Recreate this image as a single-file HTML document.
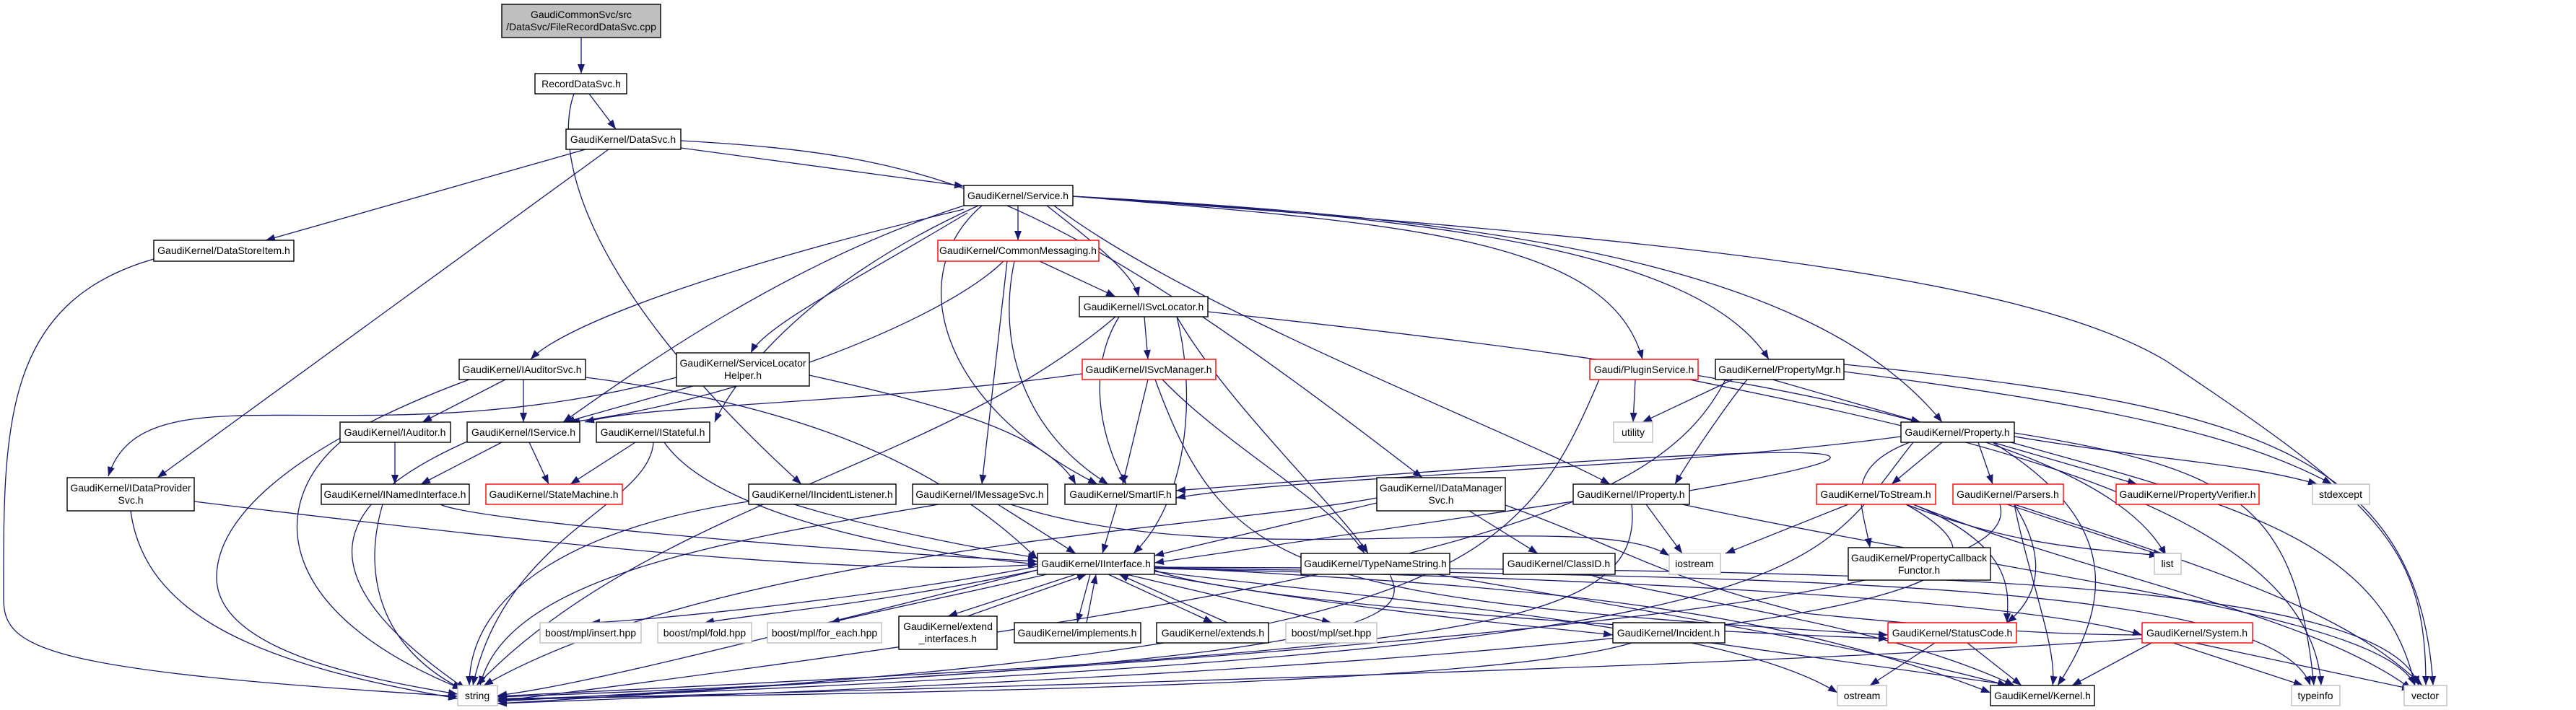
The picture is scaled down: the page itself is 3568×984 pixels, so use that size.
<!DOCTYPE html>
<html><head><meta charset="utf-8"><style>
html,body{margin:0;padding:0;background:#fff;}
svg{display:block}
text{font-family:"Liberation Sans",sans-serif;font-size:14px;fill:#000;text-anchor:middle}
.n{fill:#fff;stroke:#000;stroke-width:1.4}
.r{fill:#fff;stroke:#ff0000;stroke-width:1.4}
.g{fill:#fff;stroke:#bfbfbf;stroke-width:1.4}
.e path{fill:none;stroke:#191970;stroke-width:1.3;marker-end:url(#a)}
</style></head><body>
<svg width="3568" height="984" viewBox="0 0 3568 984" xmlns="http://www.w3.org/2000/svg">
<defs><marker id="a" markerUnits="userSpaceOnUse" markerWidth="14" markerHeight="10" refX="13" refY="5" orient="auto"><path d="M0,0 L13,5 L0,10 z" fill="#191970"/></marker></defs>
<g class="e">
<path d="M805,52 L805,102"/>
<path d="M816,130 L853,179"/>
<path d="M795,130 C770,200 790,380 1110,671"/>
<path d="M811,207 L368,333"/>
<path d="M843,207 L218,662"/>
<path d="M943,205 L1335,258"/>
<path d="M943,195 C1300,215 1450,260 1970,662"/>
<path d="M213,359 C0,420 5,600 5,830 C5,900 60,930 634,965"/>
<path d="M1410,285 L1410,333"/>
<path d="M1450,285 C1520,340 1570,380 1577,411"/>
<path d="M1335,290 C1000,370 780,450 735,498"/>
<path d="M1340,295 C1200,380 1060,450 1040,489"/>
<path d="M1335,285 C1100,360 900,500 780,585"/>
<path d="M1355,285 C1100,400 1010,540 990,585"/>
<path d="M1360,285 C1250,380 1300,560 1520,671"/>
<path d="M1460,285 C1650,430 2100,600 2230,671"/>
<path d="M1486,272 C1950,310 2230,330 2275,498"/>
<path d="M1486,272 C1950,300 2350,340 2450,498"/>
<path d="M1486,272 C2000,300 2500,350 2690,585"/>
<path d="M1486,272 C2300,330 2800,380 3000,500 C3300,700 3360,760 3360,950"/>
<path d="M1440,362 L1545,411"/>
<path d="M1395,362 L1360,671"/>
<path d="M1405,362 C1380,480 1420,600 1535,671"/>
<path d="M1390,362 C1300,450 1000,560 790,585"/>
<path d="M1585,439 L1590,498"/>
<path d="M1550,439 C1500,520 1530,620 1560,671"/>
<path d="M1630,439 C1660,560 1640,700 1570,767"/>
<path d="M1630,439 C1700,560 1850,700 1895,767"/>
<path d="M1545,439 C1300,650 900,700 660,950"/>
<path d="M1673,432 C2300,500 2900,580 3000,770"/>
<path d="M1499,518 C1200,560 900,560 810,585"/>
<path d="M1590,526 L1555,671"/>
<path d="M1610,526 C1700,620 1850,700 1890,767"/>
<path d="M1600,526 C1700,800 1800,830 2615,880"/>
<path d="M700,526 L585,585"/>
<path d="M725,526 L725,585"/>
<path d="M650,526 C450,600 300,700 300,800 C300,900 500,940 634,962"/>
<path d="M811,523 C1100,560 1300,640 1437,775"/>
<path d="M960,535 L783,585"/>
<path d="M1121,520 C1300,560 1450,600 1490,671"/>
<path d="M937,523 C500,640 200,500 150,660"/>
<path d="M547,613 L547,671"/>
<path d="M471,613 C370,700 380,850 640,955"/>
<path d="M695,613 L583,671"/>
<path d="M733,613 L760,671"/>
<path d="M647,612 C450,700 420,800 645,955"/>
<path d="M880,613 L790,671"/>
<path d="M905,613 C900,700 700,740 655,950"/>
<path d="M920,613 C980,700 1200,760 1437,782"/>
<path d="M269,695 C800,760 1200,800 1437,782"/>
<path d="M181,708 C200,850 350,920 634,968"/>
<path d="M610,699 C650,720 1100,760 1437,778"/>
<path d="M530,699 C500,800 530,900 640,955"/>
<path d="M1100,699 C1200,730 1350,760 1437,773"/>
<path d="M1037,695 C800,730 650,820 650,950"/>
<path d="M1382,699 L1490,767"/>
<path d="M1400,699 C1700,800 2200,700 2312,770"/>
<path d="M1300,699 C1000,750 700,800 665,950"/>
<path d="M1547,699 L1527,767"/>
<path d="M1907,697 L1599,770"/>
<path d="M2035,708 L2130,767"/>
<path d="M1907,690 C1700,730 1000,760 670,950"/>
<path d="M2085,700 C2250,760 2300,800 2500,850 C2800,880 2900,880 3005,880"/>
<path d="M2340,680 C2800,600 2400,620 1629,680"/>
<path d="M2179,695 L1599,780"/>
<path d="M2280,699 L2330,767"/>
<path d="M2260,699 C2280,880 2000,900 689,965"/>
<path d="M2330,699 C2800,800 3300,850 3345,950"/>
<path d="M1599,790 C1700,830 2200,870 2615,885"/>
<path d="M1599,785 C2000,810 2400,820 2757,960"/>
<path d="M1599,788 C2200,800 2800,830 2967,880"/>
<path d="M1599,792 C2000,840 2400,870 2545,960"/>
<path d="M1599,787 C2400,800 3150,800 3200,950"/>
<path d="M1599,786 C2500,790 3300,790 3350,950"/>
<path d="M1437,785 C1200,830 900,860 818,863"/>
<path d="M1437,790 C1200,840 1050,850 976,863"/>
<path d="M1450,796 C1300,830 1200,850 1150,863"/>
<path d="M1490,796 L1313,854"/>
<path d="M1510,796 L1492,863"/>
<path d="M1535,796 L1680,863"/>
<path d="M1560,796 L1844,863"/>
<path d="M1600,796 C1900,850 2150,870 2234,880"/>
<path d="M1340,854 L1505,796"/>
<path d="M1505,863 L1518,796"/>
<path d="M1700,863 L1550,796"/>
<path d="M1437,790 C1000,900 800,950 689,964"/>
<path d="M1925,796 C1950,850 1960,920 689,966"/>
<path d="M1990,796 C2300,850 2600,900 2780,950"/>
<path d="M2200,796 C2300,830 2600,860 2790,950"/>
<path d="M2260,891 C2100,940 1500,960 689,968"/>
<path d="M2370,891 L2790,950"/>
<path d="M2633,605 C2300,650 1800,660 1629,690"/>
<path d="M2650,613 C2500,800 2550,900 689,970"/>
<path d="M2690,613 L2620,671"/>
<path d="M2740,613 L2760,671"/>
<path d="M2760,613 L2960,671"/>
<path d="M2790,605 C3000,640 3100,640 3210,671"/>
<path d="M2645,613 C2550,650 2580,700 2590,759"/>
<path d="M2760,613 C2900,700 2950,800 2850,950"/>
<path d="M2790,600 C3100,650 3180,700 3205,950"/>
<path d="M2785,613 C3100,700 3300,750 3345,950"/>
<path d="M2400,526 L2275,585"/>
<path d="M2420,526 C2400,550 2350,620 2320,671"/>
<path d="M2455,526 L2660,585"/>
<path d="M2554,515 C2900,560 3100,600 3230,671"/>
<path d="M2554,505 C3100,560 3350,620 3370,950"/>
<path d="M2390,526 C2300,700 2050,800 689,972"/>
<path d="M2265,526 L2262,585"/>
<path d="M2215,526 C2100,800 2000,900 689,975"/>
<path d="M2340,526 C2700,600 3200,700 3215,950"/>
<path d="M2560,699 L2390,767"/>
<path d="M2640,699 C2800,760 2900,760 2990,770"/>
<path d="M2650,699 C2900,800 3200,850 3340,955"/>
<path d="M2640,699 C2820,800 2760,900 689,975"/>
<path d="M2650,699 C2800,760 2780,830 2780,863"/>
<path d="M2780,699 L2995,770"/>
<path d="M2790,699 C3100,800 3250,850 3355,950"/>
<path d="M2790,699 C2840,780 2820,830 2780,863"/>
<path d="M2790,699 C2810,800 2850,900 2843,950"/>
<path d="M2770,699 C2800,800 2400,880 689,972"/>
<path d="M2680,891 L2590,950"/>
<path d="M2725,891 L2800,950"/>
<path d="M2980,891 L2870,950"/>
<path d="M3010,891 L3190,950"/>
<path d="M3040,891 L3340,955"/>
<path d="M2967,885 C2500,920 1500,950 689,970"/>
</g>
<g>
<rect x="695" y="6" width="220" height="46" fill="#bfbfbf" stroke="#000" stroke-width="1.4"/><text x="805" y="25">GaudiCommonSvc/src</text><text x="805" y="42">/DataSvc/FileRecordDataSvc.cpp</text>
<rect class="n" x="741" y="102" width="127" height="28"/><text x="805" y="121">RecordDataSvc.h</text>
<rect class="n" x="784" y="179" width="159" height="28"/><text x="863" y="198">GaudiKernel/DataSvc.h</text>
<rect class="n" x="213" y="333" width="194" height="29"/><text x="310" y="352">GaudiKernel/DataStoreItem.h</text>
<rect class="n" x="1335" y="257" width="151" height="28"/><text x="1410" y="276">GaudiKernel/Service.h</text>
<rect class="r" x="1299" y="333" width="223" height="29"/><text x="1410" y="352">GaudiKernel/CommonMessaging.h</text>
<rect class="n" x="1495" y="411" width="178" height="28"/><text x="1584" y="430">GaudiKernel/ISvcLocator.h</text>
<rect class="n" x="636" y="498" width="175" height="28"/><text x="723" y="517">GaudiKernel/IAuditorSvc.h</text>
<rect class="n" x="937" y="489" width="184" height="46"/><text x="1029" y="508">GaudiKernel/ServiceLocator</text><text x="1029" y="525">Helper.h</text>
<rect class="r" x="1499" y="498" width="185" height="28"/><text x="1591" y="517">GaudiKernel/ISvcManager.h</text>
<rect class="r" x="2202" y="498" width="150" height="28"/><text x="2277" y="517">Gaudi/PluginService.h</text>
<rect class="n" x="2376" y="498" width="178" height="28"/><text x="2465" y="517">GaudiKernel/PropertyMgr.h</text>
<rect class="n" x="471" y="585" width="153" height="28"/><text x="547" y="604">GaudiKernel/IAuditor.h</text>
<rect class="n" x="647" y="585" width="156" height="28"/><text x="725" y="604">GaudiKernel/IService.h</text>
<rect class="n" x="826" y="585" width="157" height="28"/><text x="904" y="604">GaudiKernel/IStateful.h</text>
<rect class="g" x="2235" y="585" width="54" height="28"/><text x="2262" y="604">utility</text>
<rect class="n" x="2633" y="585" width="157" height="28"/><text x="2711" y="604">GaudiKernel/Property.h</text>
<rect class="n" x="93" y="662" width="176" height="46"/><text x="181" y="681">GaudiKernel/IDataProvider</text><text x="181" y="698">Svc.h</text>
<rect class="n" x="445" y="671" width="205" height="28"/><text x="547" y="690">GaudiKernel/INamedInterface.h</text>
<rect class="r" x="673" y="671" width="189" height="28"/><text x="767" y="690">GaudiKernel/StateMachine.h</text>
<rect class="n" x="1037" y="671" width="204" height="28"/><text x="1139" y="690">GaudiKernel/IIncidentListener.h</text>
<rect class="n" x="1264" y="671" width="187" height="28"/><text x="1357" y="690">GaudiKernel/IMessageSvc.h</text>
<rect class="n" x="1475" y="671" width="154" height="28"/><text x="1552" y="690">GaudiKernel/SmartIF.h</text>
<rect class="n" x="1907" y="662" width="178" height="46"/><text x="1996" y="681">GaudiKernel/IDataManager</text><text x="1996" y="698">Svc.h</text>
<rect class="n" x="2179" y="671" width="161" height="28"/><text x="2259" y="690">GaudiKernel/IProperty.h</text>
<rect class="r" x="2516" y="671" width="165" height="28"/><text x="2598" y="690">GaudiKernel/ToStream.h</text>
<rect class="r" x="2705" y="671" width="153" height="28"/><text x="2781" y="690">GaudiKernel/Parsers.h</text>
<rect class="r" x="2931" y="671" width="198" height="28"/><text x="3030" y="690">GaudiKernel/PropertyVerifier.h</text>
<rect class="g" x="3203" y="671" width="79" height="28"/><text x="3242" y="690">stdexcept</text>
<rect class="n" x="1437" y="767" width="162" height="29"/><text x="1518" y="786">GaudiKernel/IInterface.h</text>
<rect class="n" x="1802" y="767" width="206" height="29"/><text x="1905" y="786">GaudiKernel/TypeNameString.h</text>
<rect class="n" x="2082" y="767" width="155" height="29"/><text x="2159" y="786">GaudiKernel/ClassID.h</text>
<rect class="g" x="2312" y="767" width="71" height="29"/><text x="2347" y="786">iostream</text>
<rect class="n" x="2560" y="759" width="197" height="45"/><text x="2658" y="778">GaudiKernel/PropertyCallback</text><text x="2658" y="795">Functor.h</text>
<rect class="g" x="2984" y="767" width="37" height="29"/><text x="3002" y="786">list</text>
<rect class="g" x="748" y="863" width="140" height="28"/><text x="818" y="882">boost/mpl/insert.hpp</text>
<rect class="g" x="911" y="863" width="130" height="28"/><text x="976" y="882">boost/mpl/fold.hpp</text>
<rect class="g" x="1063" y="863" width="158" height="28"/><text x="1142" y="882">boost/mpl/for_each.hpp</text>
<rect class="n" x="1245" y="854" width="136" height="46"/><text x="1313" y="873">GaudiKernel/extend</text><text x="1313" y="890">_interfaces.h</text>
<rect class="n" x="1405" y="863" width="175" height="28"/><text x="1492" y="882">GaudiKernel/implements.h</text>
<rect class="n" x="1602" y="863" width="155" height="28"/><text x="1680" y="882">GaudiKernel/extends.h</text>
<rect class="g" x="1781" y="863" width="126" height="28"/><text x="1844" y="882">boost/mpl/set.hpp</text>
<rect class="n" x="2234" y="863" width="155" height="28"/><text x="2311" y="882">GaudiKernel/Incident.h</text>
<rect class="r" x="2615" y="863" width="178" height="28"/><text x="2704" y="882">GaudiKernel/StatusCode.h</text>
<rect class="r" x="2967" y="863" width="153" height="28"/><text x="3043" y="882">GaudiKernel/System.h</text>
<rect class="g" x="634" y="950" width="55" height="28"/><text x="661" y="969">string</text>
<rect class="g" x="2545" y="950" width="68" height="28"/><text x="2579" y="969">ostream</text>
<rect class="n" x="2757" y="950" width="144" height="28"/><text x="2829" y="969">GaudiKernel/Kernel.h</text>
<rect class="g" x="3174" y="950" width="67" height="28"/><text x="3207" y="969">typeinfo</text>
<rect class="g" x="3330" y="950" width="59" height="28"/><text x="3359" y="969">vector</text>
</g>
</svg>
</body></html>
